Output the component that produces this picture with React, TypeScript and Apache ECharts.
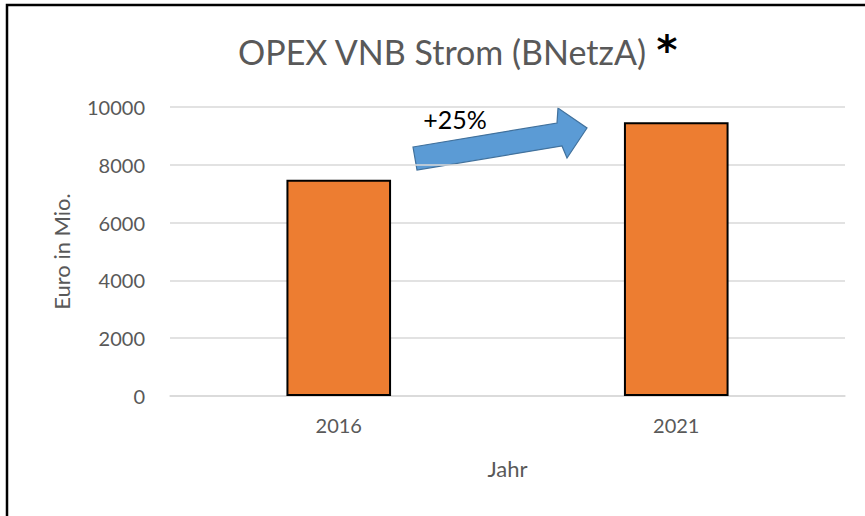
import React, { useEffect, useRef } from "react";
import * as echarts from "echarts";

const categories = ["2016", "2021"];
const opexValues = [7480, 9470];
const yTicks = [0, 2000, 4000, 6000, 8000, 10000];
const titleText = "OPEX VNB Strom (BNetzA)";
const changeLabel = "+25%";

export default function App() {
  const ref = useRef<HTMLDivElement>(null);
  useEffect(() => {
    if (!ref.current) return;
    const chart = echarts.init(ref.current, null, { renderer: "svg" });
    const font = "Lato, 'Open Sans', sans-serif";
    chart.setOption({
      animation: false,
      backgroundColor: "#ffffff",
      grid: { left: 170, right: 20, top: 107, bottom: 120 },
      xAxis: {
        type: "category",
        data: categories,
        name: "Jahr",
        nameLocation: "middle",
        nameGap: 61,
        nameTextStyle: { color: "#595959", fontSize: 22, fontFamily: font },
        axisTick: { show: false },
        axisLine: { lineStyle: { color: "#d9d9d9", width: 1.5 } },
        axisLabel: { color: "#595959", fontSize: 20, fontFamily: font, margin: 19 },
      },
      yAxis: {
        type: "value",
        min: yTicks[0],
        max: yTicks[yTicks.length - 1],
        interval: 2000,
        name: "Euro in Mio.",
        nameLocation: "middle",
        nameGap: 98,
        nameTextStyle: { color: "#595959", fontSize: 22, fontFamily: font },
        axisLine: { show: false },
        axisTick: { show: false },
        splitLine: { lineStyle: { color: "#d9d9d9", width: 1.5 } },
        axisLabel: {
          color: "#595959",
          fontSize: 20,
          fontFamily: font,
          margin: 25,
          formatter: (v: number) => String(v),
        },
      },
      series: [
        {
          type: "bar",
          data: opexValues,
          barWidth: "31%",
          itemStyle: { color: "#ED7D31", borderColor: "#000000", borderWidth: 2 },
        },
      ],
      graphic: [
        {
          type: "rect",
          shape: { x: 7, y: 5, width: 900, height: 560 },
          style: { fill: "none", stroke: "#000000", lineWidth: 2.5 },
          silent: true,
        },
        {
          type: "text",
          x: 442,
          y: 51,
          style: {
            text: titleText,
            fill: "#595959",
            fontSize: 34,
            fontFamily: font,
            align: "center",
            verticalAlign: "middle",
          },
        },
        {
          type: "text",
          x: 667,
          y: 50,
          style: {
            text: "*",
            fill: "#000000",
            fontSize: 40,
            fontWeight: "bold",
            fontFamily: "'DejaVu Sans', sans-serif",
            align: "center",
            verticalAlign: "middle",
          },
        },
        {
          type: "polygon",
          shape: {
            points: [
              [413, 147],
              [557, 123],
              [558, 108],
              [587, 128],
              [567, 158],
              [562, 146],
              [417, 170],
            ],
          },
          style: { fill: "#5B9BD5", stroke: "#41719C", lineWidth: 1.2 },
        },
        {
          type: "text",
          x: 455,
          y: 119,
          style: {
            text: changeLabel,
            fill: "#000000",
            fontSize: 25,
            fontFamily: font,
            align: "center",
            verticalAlign: "middle",
          },
        },
      ],
    });
    return () => chart.dispose();
  }, []);
  return (
    <div
      ref={ref}
      style={{ position: "absolute", left: 0, top: 0, width: 865, height: 516 }}
    />
  );
}
